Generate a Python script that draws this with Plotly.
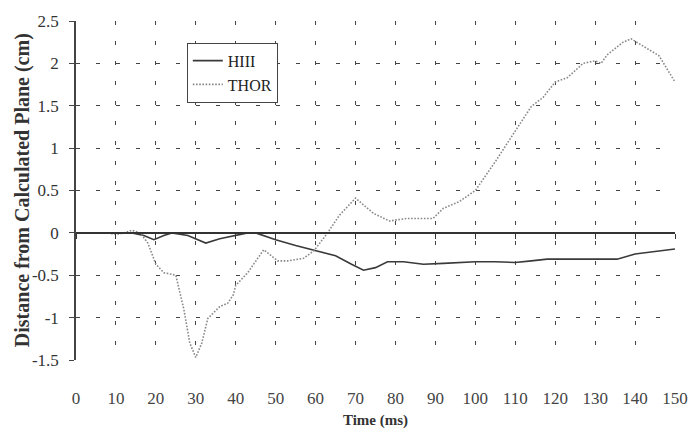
import plotly.graph_objects as go

# HIII dummy: distance from calculated plane (cm) vs time (ms)
hiii_t = [0, 5, 10, 14, 17, 19.5, 22, 24, 28, 32.5, 36, 40, 43, 45, 50, 55, 60, 65,
          69, 72, 75, 78, 82, 87, 92, 100, 105, 110, 114, 118, 124, 130, 135.5, 140, 145, 150]
hiii_d = [0, 0, 0, 0, -0.03, -0.08, -0.03, 0, -0.03, -0.12, -0.07, -0.03, 0, 0, -0.08, -0.15,
          -0.21, -0.27, -0.37, -0.44, -0.41, -0.34, -0.34, -0.37, -0.36, -0.34, -0.34, -0.35,
          -0.33, -0.31, -0.31, -0.31, -0.31, -0.25, -0.22, -0.19]

# THOR dummy
thor_t = [0, 5, 8, 10, 12, 14, 16, 18, 20, 22, 25, 27, 28.5, 30, 31.5, 33, 36, 38, 39.4,
          40, 43, 47, 50.5, 53, 57, 59.6, 63, 66, 70, 74.5, 78.5, 82.7, 87, 89.4, 92, 96,
          100, 105, 109, 114, 117, 120, 123, 127, 130, 131.5, 133, 137, 139, 142, 146, 150]
thor_d = [0, 0, 0, -0.02, 0, 0.03, 0, -0.12, -0.37, -0.47, -0.5, -0.9, -1.3, -1.47, -1.3,
          -1.01, -0.87, -0.83, -0.73, -0.62, -0.47, -0.2, -0.33, -0.33, -0.3, -0.21, 0,
          0.21, 0.41, 0.23, 0.14, 0.17, 0.17, 0.17, 0.29, 0.37, 0.5, 0.84, 1.13, 1.49, 1.6,
          1.78, 1.83, 2.0, 2.03, 2.0, 2.1, 2.25, 2.29, 2.2, 2.09, 1.78]

x_ticks = list(range(0, 151, 10))
y_ticks = [-1.5, -1, -0.5, 0, 0.5, 1, 1.5, 2, 2.5]
y_tick_text = ["-1.5", "-1", "-0.5", "0", "0.5", "1", "1.5", "2", "2.5"]

SERIF = "Liberation Serif, Times New Roman, serif"
GRID = "#444444"

fig = go.Figure()
fig.add_trace(go.Scatter(x=hiii_t, y=hiii_d, name="HIII", mode="lines",
                         line=dict(color="#3a3a3a", width=1.6)))
fig.add_trace(go.Scatter(x=thor_t, y=thor_d, name="THOR", mode="lines", xaxis="x2",
                         line=dict(color="#888888", width=1.6, dash="1.6px,1.6px")))

fig.update_layout(
    width=700, height=438,
    margin=dict(l=76, r=18, t=20, b=74),
    paper_bgcolor="white", plot_bgcolor="white",
    font=dict(family=SERIF, color="#333333"),
    showlegend=True,
    legend=dict(x=0.185, y=0.936, xanchor="left", yanchor="top",
                bgcolor="white", bordercolor="#444444", borderwidth=1,
                font=dict(family=SERIF, size=16, color="#222222"),
                tracegroupgap=0, itemwidth=30),
    xaxis=dict(range=[0, 150], tickvals=x_ticks, ticks="", showline=False,
               zeroline=False, showgrid=True, gridcolor=GRID, gridwidth=1,
               griddash="4px,16px", ticklabelstandoff=26,
               tickfont=dict(family=SERIF, size=17, color="#444444"),
               title=dict(text="<b>Time (ms)</b>", standoff=7,
                          font=dict(family=SERIF, size=15, color="#333333"))),
    xaxis2=dict(range=[0, 150], matches="x", overlaying="x", anchor="free",
                position=0.375, tickvals=x_ticks, ticks="outside", ticklen=5,
                tickcolor="#333333", showline=True, linecolor="#333333", linewidth=1.5,
                showticklabels=False, showgrid=False, zeroline=False),
    yaxis=dict(range=[-1.5, 2.5], tickvals=y_ticks, ticktext=y_tick_text,
               ticks="outside", ticklen=5, tickcolor="#444444",
               showline=True, linecolor="#444444", linewidth=1.5,
               zeroline=False, showgrid=True, gridcolor=GRID, gridwidth=1,
               griddash="4px,16px", ticklabelstandoff=7,
               tickfont=dict(family=SERIF, size=17, color="#333333")),
    annotations=[dict(text="<b>Distance from Calculated Plane (cm)</b>",
                      xref="paper", yref="paper", x=-0.089, y=0.5,
                      xanchor="center", yanchor="middle", textangle=-90,
                      showarrow=False,
                      font=dict(family=SERIF, size=20, color="#333333"))],
)

fig.write_html("out.html")
